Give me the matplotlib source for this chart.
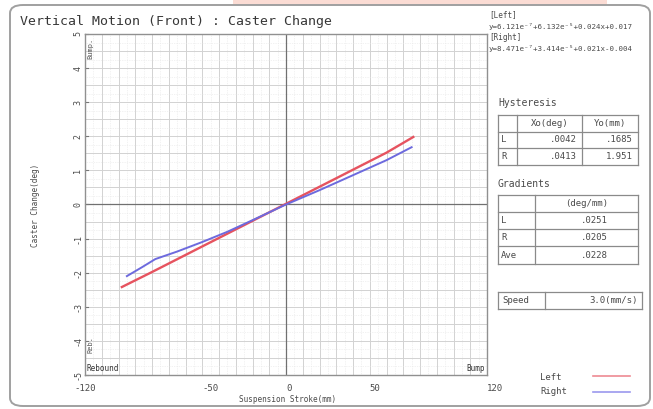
import matplotlib

matplotlib.use("Agg")
import matplotlib.pyplot as plt
from matplotlib.patches import FancyBboxPatch, Rectangle
from matplotlib.ticker import MultipleLocator

# caster change vs suspension stroke
left_x = [-98, -80, -60, -40, -20, 0, 20, 40, 60, 76]
left_y = [-2.42, -1.98, -1.48, -0.98, -0.48, 0.02, 0.52, 1.02, 1.52, 1.98]
right_x = [-95, -86, -78, -65, -50, -35, -20, 0, 20, 40, 60, 75]
right_y = [-2.10, -1.84, -1.60, -1.38, -1.10, -0.80, -0.46, 0.0, 0.42, 0.86, 1.30, 1.68]

x_ticks = [-120, -50, 0, 50, 120]
y_ticks = [5, 4, 3, 2, 1, 0, -1, -2, -3, -4, -5]

fit_left = "y=6.121e\u207b\u2077+6.132e\u207b\u2075+0.024x+0.017"
fit_right = "y=8.471e\u207b\u2077+3.414e\u207b\u2075+0.021x-0.004"

hyst_header = ["", "Xo(deg)", "Yo(mm)"]
hyst_rows = [["L", ".0042", ".1685"], ["R", ".0413", "1.951"]]
grad_header = ["", "(deg/mm)"]
grad_rows = [["L", ".0251"], ["R", ".0205"], ["Ave", ".0228"]]
speed = ["Speed", "3.0(mm/s)"]

W, H = 653, 409
MONO = "DejaVu Sans Mono"
TXT = "#4a4a4a"
RED = "#e6535f"
BLUE = "#6d6ade"

fig = plt.figure(figsize=(W / 100, H / 100), dpi=100)


def fx(px):
    return px / W


def fy(py):
    return 1 - py / H


def ftext(px, py, s, size=6.5, **kw):
    kw.setdefault("color", TXT)
    kw.setdefault("family", MONO)
    fig.text(fx(px), fy(py), s, fontsize=size, **kw)


def hline(x0, x1, py, color="#8a8a8a", lw=0.9):
    fig.add_artist(plt.Line2D([fx(x0), fx(x1)], [fy(py), fy(py)], color=color, lw=lw))


def vline(px, y0, y1, color="#8a8a8a", lw=0.9):
    fig.add_artist(plt.Line2D([fx(px), fx(px)], [fy(y0), fy(y1)], color=color, lw=lw))


# pale strip along the top edge
fig.add_artist(Rectangle((fx(233), fy(5)), fx(607 - 233), fy(0) - fy(5),
                         transform=fig.transFigure, facecolor="#fbdcd4", edgecolor="none"))

# outer rounded frame
fig.add_artist(FancyBboxPatch((fx(10), fy(406)), fx(640), fy(5) - fy(406),
                              boxstyle="round,pad=0,rounding_size=0.02",
                              transform=fig.transFigure, facecolor="none",
                              edgecolor="#a0a0a0", lw=1.4))

ftext(20, 21, "Vertical Motion (Front) : Caster Change", size=9.5, color="#383838", va="center")

ax = fig.add_axes([fx(85), fy(375), fx(487 - 85), fy(34) - fy(375)])
ax.plot(left_x, left_y, color=RED, lw=1.7, zorder=3)
ax.plot(right_x, right_y, color=BLUE, lw=1.4, zorder=4)
ax.axhline(0, color="#707070", lw=0.9, zorder=2)
ax.axvline(0, color="#707070", lw=0.9, zorder=2)

ax.set_xlim(-120, 120)
ax.set_ylim(-5, 5)
ax.xaxis.set_major_locator(MultipleLocator(10))
ax.xaxis.set_minor_locator(MultipleLocator(5))
ax.yaxis.set_major_locator(MultipleLocator(0.5))
ax.yaxis.set_minor_locator(MultipleLocator(0.25))
ax.grid(True, which="major", color="#d2d2d2", lw=0.7)
ax.grid(True, which="minor", color="#e6e6e6", lw=0.5, ls=(0, (1, 1.5)))
ax.tick_params(which="both", length=0, labelbottom=False, labelleft=False)
for side in ax.spines.values():
    side.set_color("#909090")
    side.set_linewidth(1.0)

for v in x_ticks:
    ax.text(v, -5.25, str(v), fontsize=6.5, family=MONO, color=TXT,
            ha="left" if v > -120 else "center", va="top")
for v in y_ticks:
    ax.text(-121.5, v, str(v), fontsize=6, family=MONO, color=TXT,
            ha="right", va="center", rotation=90)
    ax.plot([-120, -118.5], [v, v], color="#777777", lw=0.8, clip_on=False)

ax.text(-119, -4.93, "Rebound", fontsize=5.5, family=MONO, color="#333333", ha="left", va="bottom")
ax.text(119, -4.93, "Bump", fontsize=5.5, family=MONO, color="#333333", ha="right", va="bottom")
ax.text(-118.5, 4.9, "Bump.", fontsize=5, family=MONO, color="#555555", ha="left", va="top", rotation=90)
ax.text(-118.5, -4.1, "Reb.", fontsize=5, family=MONO, color="#555555", ha="left", va="center", rotation=90)

ftext(36, 205, "Caster Change(deg)", size=5.5, rotation=90, ha="center", va="center")
ftext(288, 400, "Suspension Stroke(mm)", size=5.5, ha="center", va="center")

# fitted curves
ftext(489, 15, "[Left]", size=5.5, va="center")
ftext(489, 26, fit_left, size=5.4, va="center")
ftext(489, 37, "[Right]", size=5.5, va="center")
ftext(489, 48, fit_right, size=5.4, va="center")

# hysteresis table
ftext(498, 103, "Hysteresis", size=7, va="center")
cols = [498, 517, 582, 638]
rows = [115, 132, 148, 165]
for py in rows:
    hline(cols[0], cols[-1], py)
for px in cols:
    vline(px, rows[0], rows[-1])
for i, h in enumerate(hyst_header):
    ftext((cols[i] + cols[i + 1]) / 2, (rows[0] + rows[1]) / 2, h, size=6.5, ha="center", va="center")
for r, row in enumerate(hyst_rows):
    cy = (rows[r + 1] + rows[r + 2]) / 2
    ftext(cols[0] + 3, cy, row[0], size=6.5, va="center")
    ftext(cols[2] - 5, cy, row[1], size=6.5, ha="right", va="center")
    ftext(cols[3] - 5, cy, row[2], size=6.5, ha="right", va="center")

# gradients table
ftext(498, 184, "Gradients", size=7, va="center")
gcols = [498, 535, 638]
grows = [195, 212, 229, 246, 264]
for py in grows:
    hline(gcols[0], gcols[-1], py)
for px in gcols:
    vline(px, grows[0], grows[-1])
ftext((gcols[1] + gcols[2]) / 2, (grows[0] + grows[1]) / 2, grad_header[1], size=6.5, ha="center", va="center")
for r, row in enumerate(grad_rows):
    cy = (grows[r + 1] + grows[r + 2]) / 2
    ftext(gcols[0] + 3, cy, row[0], size=6.5, va="center")
    ftext(608, cy, row[1], size=6.5, ha="right", va="center")

# speed box
scols = [498, 545, 642]
hline(scols[0], scols[-1], 292)
hline(scols[0], scols[-1], 309)
for px in scols:
    vline(px, 292, 309)
ftext(502, 300.5, speed[0], size=6.5, va="center")
ftext(638, 300.5, speed[1], size=6.5, ha="right", va="center")

# legend
ftext(540, 377, "Left", size=6.5, va="center")
ftext(540, 392, "Right", size=6.5, va="center")
hline(593, 630, 376, color="#ee8a92", lw=1.2)
hline(593, 630, 392, color="#9b98ee", lw=1.2)

fig.savefig("out.png", dpi=100)
